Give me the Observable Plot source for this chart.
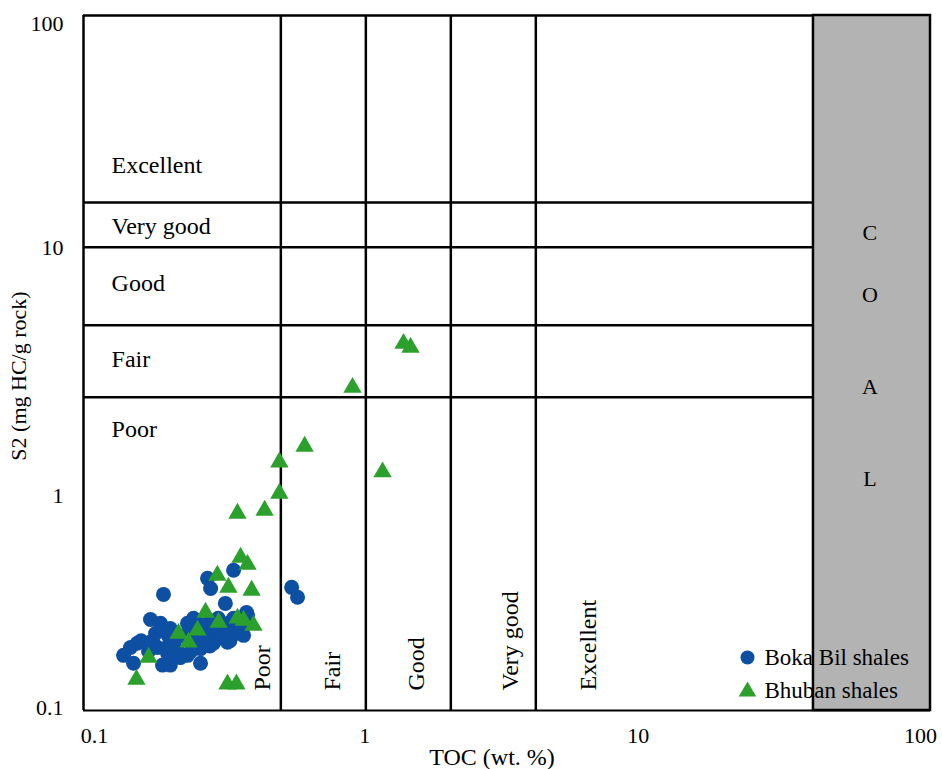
<!DOCTYPE html>
<html>
<head>
<meta charset="utf-8">
<script src="https://cdn.jsdelivr.net/npm/d3@7"></script>
<script src="https://cdn.jsdelivr.net/npm/@observablehq/plot@0.6"></script>
<style>
  html, body { margin: 0; padding: 0; background: #fff; }
  svg { display: block; }
</style>
</head>
<body>
<div id="chart"></div>
<script>
// ---- data ----
const xTicks = [0.1, 1, 10, 100];
const xTickLabels = ["0.1", "1", "10", "100"];
const yTicks = [0.1, 1, 10, 100];
const yTickLabels = ["0.1", "1", "10", "100"];

// TOC class boundaries (wt. %) and S2 class boundaries (mg HC/g rock)
const tocBounds = [0.5, 1, 2, 4];
const s2Bounds = [2.25, 4.6, 10, 15.6];
const coalStart = 38.5;

const s2Classes = ["Excellent", "Very good", "Good", "Fair", "Poor"];
const s2ClassY = [22.5, 12.3, 7.0, 3.27, 1.63];
const tocClasses = ["Poor", "Fair", "Good", "Very good", "Excellent"];
const tocClassX = [0.43, 0.76, 1.51, 3.26, 6.15];
const coalLetters = ["C", "O", "A", "L"];
const coalLetterY = [11.5, 6.19, 2.48, 1.0];

const seriesNames = ["Boka Bil shales", "Bhuban shales"];

const bokaTOC = [0.275, 0.282, 0.34, 0.192, 0.318, 0.378, 0.1727, 0.1874, 0.203, 0.2335,
  0.2453, 0.1467, 0.1386, 0.1504, 0.1755, 0.183, 0.1905, 0.1985, 0.215, 0.2206,
  0.2335, 0.2393, 0.2597, 0.264, 0.275, 0.2887, 0.3057, 0.3236, 0.318, 0.345,
  0.36, 0.369, 0.381, 0.546, 0.573, 0.203, 0.22, 0.25, 0.28, 0.30,
  0.33, 0.26, 0.20, 0.30, 0.35, 0.20, 0.21, 0.23, 0.25, 0.27,
  0.29, 0.31, 0.33, 0.24, 0.22, 0.28, 0.32, 0.36, 0.37, 0.16,
  0.17, 0.26, 0.34, 0.155, 0.18, 0.19];
const bokaS2 = [0.372, 0.336, 0.403, 0.317, 0.29, 0.265, 0.247, 0.238, 0.226, 0.238,
  0.25, 0.187, 0.173, 0.16, 0.2, 0.187, 0.157, 0.176, 0.1816, 0.1695,
  0.173, 0.2, 0.16, 0.197, 0.215, 0.195, 0.2066, 0.197, 0.2285, 0.215,
  0.2285, 0.211, 0.257, 0.34, 0.308, 0.157, 0.21, 0.22, 0.24, 0.25,
  0.24, 0.185, 0.21, 0.22, 0.245, 0.19, 0.20, 0.21, 0.20, 0.22,
  0.23, 0.21, 0.20, 0.18, 0.17, 0.19, 0.23, 0.22, 0.24, 0.20,
  0.18, 0.235, 0.25, 0.195, 0.215, 0.225];

const bhubanTOC = [1.36, 1.44, 0.897, 0.607, 0.494, 1.146, 0.494, 0.438, 0.351, 0.36,
  0.381, 0.298, 0.326, 0.394, 0.2705, 0.301, 0.351, 0.369, 0.40, 0.2535,
  0.217, 0.2355, 0.17, 0.154, 0.3236, 0.348];
const bhubanS2 = [3.84, 3.69, 2.48, 1.38, 1.18, 1.07, 0.865, 0.731, 0.709, 0.458,
  0.427, 0.383, 0.34, 0.33, 0.265, 0.24, 0.25, 0.245, 0.233, 0.222,
  0.215, 0.197, 0.1695, 0.136, 0.13, 0.13];

// ---- build tables ----
const boka = bokaTOC.map((x, i) => ({x, y: bokaS2[i]}));
const bhuban = bhubanTOC.map((x, i) => ({x, y: bhubanS2[i]}));
const s2Labels = s2Classes.map((t, i) => ({t, y: s2ClassY[i]}));
const tocLabels = tocClasses.map((t, i) => ({t, x: tocClassX[i]}));
const coalText = coalLetters.map((t, i) => ({t, y: coalLetterY[i]}));
const xMin = xTicks[0], xMax = xTicks[xTicks.length - 1];
const yMin = yTicks[0], yMax = yTicks[yTicks.length - 1];

const blue = "#0d4fa3";
const green = "#2ca02c";
const font = "Liberation Serif, Times New Roman, serif";

const xFmt = d => xTickLabels[xTicks.indexOf(d)];
const yFmt = d => yTickLabels[yTicks.indexOf(d)];
const xAx = (ticks, dx) => Plot.axisX({ticks, tickFormat: xFmt, tickSize: 0, tickPadding: 17, label: null, fontSize: 22, dx});
const yAx = (ticks, dy) => Plot.axisY({ticks, tickFormat: yFmt, tickSize: 0, tickPadding: 20, label: null, fontSize: 22, dy});

const chart = Plot.plot({
  width: 942,
  height: 769,
  marginLeft: 83,
  marginRight: 12,
  marginTop: 15,
  marginBottom: 59,
  style: {fontFamily: font, fontSize: "22px", background: "white", color: "black"},
  x: {type: "log", domain: [xMin, xMax]},
  y: {type: "log", domain: [yMin, yMax]},
  marks: [
    // coal box
    Plot.rect([{x1: coalStart, x2: xMax, y1: yMin, y2: yMax}], {
      x1: "x1", x2: "x2", y1: "y1", y2: "y2",
      fill: "#b3b3b3", stroke: "black", strokeWidth: 2.5
    }),
    // frame: left, top, bottom
    Plot.ruleX([xMin], {y1: yMin, y2: yMax, strokeWidth: 2.5}),
    Plot.ruleY([yMax], {x1: xMin, x2: coalStart, strokeWidth: 2.5}),
    Plot.ruleY([yMin], {x1: xMin, x2: xMax, strokeWidth: 2}),
    // class boundaries
    Plot.ruleX(tocBounds, {y1: yMin, y2: yMax, strokeWidth: 2.5}),
    Plot.ruleY(s2Bounds, {x1: xMin, x2: coalStart, strokeWidth: 2.5}),
    // axes (label offsets as in the original layout)
    xAx([xTicks[0]], 11),
    xAx([xTicks[1]], -1),
    xAx([xTicks[2], xTicks[3]], -10),
    yAx([yTicks[0]], -3),
    yAx([yTicks[1]], 17),
    yAx([yTicks[2]], 1),
    yAx([yTicks[3]], 8),
    // axis titles
    Plot.text(["TOC (wt. %)"], {frameAnchor: "bottom", textAnchor: "middle", lineAnchor: "middle", dx: -15, dy: 47, fontSize: 24}),
    Plot.text(["S2 (mg HC/g rock)"], {frameAnchor: "left", textAnchor: "middle", lineAnchor: "middle", rotate: -90, dx: -65, dy: 13, fontSize: 22}),
    // class labels
    Plot.text(s2Labels, {x: 0.1257, y: "y", text: "t", textAnchor: "start", fontSize: 24}),
    Plot.text(tocLabels, {x: "x", y: 0.122, text: "t", rotate: -90, textAnchor: "start", fontSize: 24}),
    Plot.text(coalText, {x: 61, y: "y", text: "t", fontSize: 22}),
    // data
    Plot.dot(boka, {x: "x", y: "y", r: 7.5, fill: blue, symbol: "circle"}),
    Plot.dot(bhuban, {x: "x", y: "y", r: 6.8, fill: green, symbol: "triangle"}),
    // legend
    Plot.dot([seriesNames[0]], {frameAnchor: "bottom-right", dx: -183, dy: -53, r: 7, fill: blue, symbol: "circle"}),
    Plot.dot([seriesNames[1]], {frameAnchor: "bottom-right", dx: -183, dy: -19, r: 6.5, fill: green, symbol: "triangle"}),
    Plot.text([seriesNames[0]], {frameAnchor: "bottom-right", dx: -166, dy: -53, textAnchor: "start", lineAnchor: "middle", fontSize: 23}),
    Plot.text([seriesNames[1]], {frameAnchor: "bottom-right", dx: -166, dy: -20, textAnchor: "start", lineAnchor: "middle", fontSize: 23})
  ]
});
document.getElementById("chart").appendChild(chart);
</script>
</body>
</html>
